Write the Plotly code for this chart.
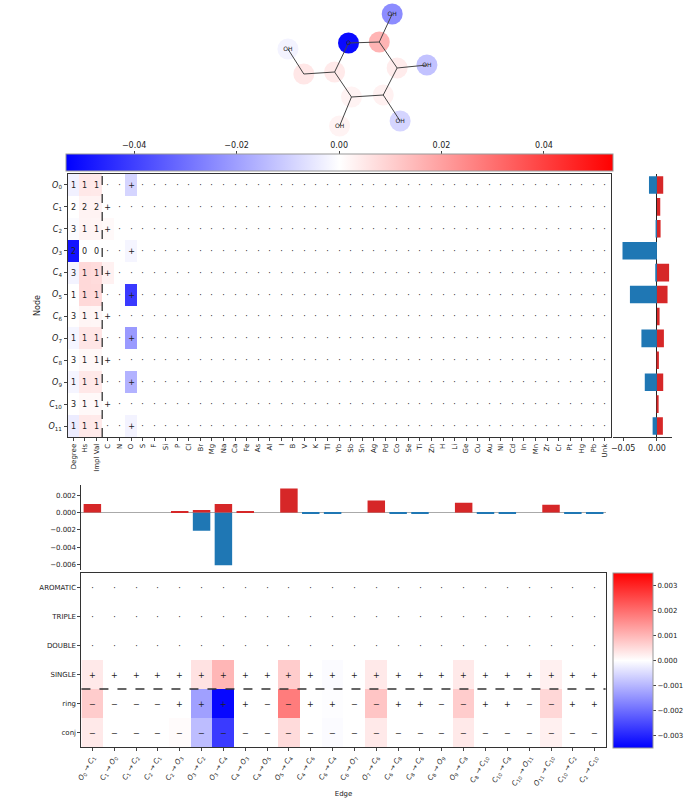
import plotly.graph_objects as go

# ---------------- data ----------------
node_elem = ["O", "C", "C", "O", "C", "O", "C", "O", "C", "O", "C", "O"]
node_num = list(range(12))
numeric_features = ["Degree", "Hs", "Impl Val"]
atom_types = ["C", "N", "O", "S", "F", "Si", "P", "Cl", "Br", "Mg", "Na", "Ca", "Fe", "As", "Al",
              "I", "B", "V", "K", "Tl", "Yb", "Sb", "Sn", "Ag", "Pd", "Co", "Se", "Ti", "Zn", "H",
              "Li", "Ge", "Cu", "Au", "Ni", "Cd", "In", "Mn", "Zr", "Cr", "Pt", "Hg", "Pb", "Unk"]
degree = [1, 2, 3, 2, 3, 1, 3, 1, 3, 1, 3, 1]
hs = [1, 2, 1, 0, 1, 1, 1, 1, 1, 1, 1, 1]
impl_val = [1, 2, 1, 0, 1, 1, 1, 1, 1, 1, 1, 1]

attr_degree = [-0.003, 0.0, -0.0008, -0.049, -0.0025, 0.0, 0.0002, -0.002, 0.0, -0.002, 0.0, -0.004]
attr_hs = [0.0048, 0.0025, 0.0022, 0.0, 0.0078, 0.0080, 0.0020, 0.0052, 0.0015, 0.0047, 0.0013, 0.0045]
attr_impl = [0.0045, 0.0024, 0.0020, 0.0, 0.0072, 0.0077, 0.0019, 0.0051, 0.0014, 0.0046, 0.0012, 0.0043]
attr_elem = [-0.0088, 0.0, 0.0012, -0.002, 0.003, -0.041, 0.0, -0.021, 0.0, -0.016, 0.0, -0.0024]

node_pos = [0.0093, 0.0049, 0.0054, 0.0, 0.018, 0.0157, 0.0039, 0.0103, 0.0029, 0.0093, 0.0025, 0.0088]
node_neg = [-0.0118, 0.0, -0.001, -0.051, -0.0025, -0.040, 0.0, -0.023, 0.0, -0.018, 0.0, -0.0064]

# molecule depiction (2D layout of atoms) and atom colour values
atom_x = [285, 301, 332, 346, 377, 390, 395, 425, 381, 398, 349, 337]
atom_y = [49, 74, 72, 43, 42, 14, 68, 65, 95, 121, 97, 126]
atom_label = ["OH", "", "", "O", "", "OH", "", "OH", "", "OH", "", "OH"]
atom_value = [-0.0025, 0.0049, 0.0044, -0.051, 0.0155, -0.024, 0.0039, -0.0127, 0.0029, -0.0087, 0.0025, 0.0024]

edge_src = [0, 1, 1, 2, 2, 3, 3, 4, 4, 5, 4, 6, 6, 7, 6, 8, 8, 9, 8, 10, 10, 11, 10, 2]
edge_dst = [1, 0, 2, 1, 3, 2, 4, 3, 5, 4, 6, 4, 7, 6, 8, 6, 9, 8, 10, 8, 11, 10, 2, 10]
edge_rows = ["AROMATIC", "TRIPLE", "DOUBLE", "SINGLE", "ring", "conj"]
is_single = [1] * 24
is_ring = [0, 0, 0, 0, 1, 1, 1, 1, 0, 0, 1, 1, 0, 0, 1, 1, 0, 0, 1, 1, 0, 0, 1, 1]
is_conj = [0] * 24
attr_aromatic = [0.0] * 24
attr_triple = [0.0] * 24
attr_double = [0.0] * 24
attr_single = [0.0003, 0, 0, 0, 0, 0.0004, 0.0010, 0, 0, 0.0007, 0, -0.00005, 0, 0.0003, 0, 0, 0, 0.0003, 0, 0, 0, 0.0002, 0, 0]
attr_ring = [0.0007, 0, 0, 0, 0, -0.0013, -0.0034, 0, 0, 0.0018, 0, -0.00003, 0, 0.0008, 0, 0, 0, 0.0007, 0, 0, 0, 0.00055, 0, 0]
attr_conj = [0.0003, 0, 0, 0, 0.00005, -0.0009, -0.0027, 0, 0, 0.0005, 0, -0.00005, 0, 0.0003, 0, 0, 0, 0.0003, 0, 0, 0, 0.0002, 0, 0]

edge_pos = [0.0010, 0, 0, 0, 0.00008, 0.0003, 0.0010, 0.00008, 0, 0.0028, 0, 0, 0, 0.0014, 0, 0, 0, 0.00114, 0, 0, 0, 0.0009, 0, 0]
edge_neg = [0, 0, 0, 0, 0, -0.0021, -0.0061, 0, 0, 0, -0.00005, -0.00015, 0, 0, -0.00005, -0.00005, 0, 0, -0.0001, -0.00005, 0, 0, -0.00005, -0.0001]

# ---------------- helpers ----------------
W, H = 691, 798
def fx(p): return p / W
def fy(p): return 1 - p / H

FONT = "DejaVu Sans"
BWR = [[0, "rgb(0,0,255)"], [0.5, "rgb(255,255,255)"], [1, "rgb(255,0,0)"]]
NMAX = 0.053
EMAX = 0.0035
BLUE = "#1f77b4"
RED = "#d62728"

def node_lbl(i):
    return f"<i>{node_elem[i]}</i><sub>{node_num[i]}</sub>"

node_labels = [node_lbl(i) for i in range(12)]
feat_names = numeric_features + atom_types
n_num = len(numeric_features)

# node matrix
z_node, t_node = [], []
for i in range(12):
    row = [attr_degree[i], attr_hs[i], attr_impl[i]]
    txt = [str(degree[i]), str(hs[i]), str(impl_val[i])]
    for a in atom_types:
        if a == node_elem[i]:
            row.append(attr_elem[i]); txt.append("+")
        else:
            row.append(0.0); txt.append("·")
    z_node.append(row); t_node.append(txt)

edge_labels = [f"{node_lbl(s)} → {node_lbl(d)}" for s, d in zip(edge_src, edge_dst)]
z_edge = [attr_aromatic, attr_triple, attr_double, attr_single, attr_ring, attr_conj]
t_edge = [["·"] * 24, ["·"] * 24, ["·"] * 24,
          ["+" if v else "−" for v in is_single],
          ["+" if v else "−" for v in is_ring],
          ["+" if v else "−" for v in is_conj]]

fig = go.Figure()

# molecule
mol_x, mol_y = [], []
for s, d in zip(edge_src, edge_dst):
    if s < d:
        mol_x += [atom_x[s], atom_x[d], None]
        mol_y += [atom_y[s], atom_y[d], None]
fig.add_trace(go.Scatter(x=atom_x, y=atom_y, mode="markers", xaxis="x6", yaxis="y6",
                         marker=dict(size=21, color=atom_value, colorscale=BWR, cmin=-NMAX, cmax=NMAX,
                                     line=dict(width=0), showscale=False),
                         hoverinfo="skip", showlegend=False))
fig.add_trace(go.Scatter(x=mol_x, y=mol_y, mode="lines", xaxis="x6", yaxis="y6",
                         line=dict(color="#444", width=1), hoverinfo="skip", showlegend=False))
fig.add_trace(go.Scatter(x=atom_x, y=atom_y, mode="text", text=atom_label, xaxis="x6", yaxis="y6",
                         textfont=dict(family=FONT, size=6, color="#222"), hoverinfo="skip", showlegend=False))

# node heatmap
fig.add_trace(go.Heatmap(z=z_node, x=list(range(len(feat_names))), y=list(range(12)),
                         text=t_node, texttemplate="%{text}",
                         textfont=dict(family=FONT, size=8, color="#222"),
                         colorscale=BWR, zmin=-NMAX, zmax=NMAX, xaxis="x", yaxis="y",
                         colorbar=dict(orientation="h", x=fx(336.5), xanchor="center", y=fy(172), yanchor="bottom",
                                       len=547, lenmode="pixels", thickness=17, thicknessmode="pixels",
                                       xpad=0, ypad=0, showticklabels=False, ticks="",
                                       outlinewidth=1, outlinecolor="#999")))

# node bars
fig.add_trace(go.Bar(x=node_neg, y=list(range(12)), orientation="h", marker=dict(color=BLUE, line=dict(width=0)),
                     width=0.8, xaxis="x2", yaxis="y2", showlegend=False))
fig.add_trace(go.Bar(x=node_pos, y=list(range(12)), orientation="h", marker=dict(color=RED, line=dict(width=0)),
                     width=0.8, xaxis="x2", yaxis="y2", showlegend=False))

# edge heatmap
fig.add_trace(go.Heatmap(z=z_edge, x=list(range(24)), y=list(range(6)),
                         text=t_edge, texttemplate="%{text}",
                         textfont=dict(family=FONT, size=8, color="#222"),
                         colorscale=BWR, zmin=-EMAX, zmax=EMAX, xaxis="x3", yaxis="y3",
                         colorbar=dict(x=fx(612), xanchor="left", y=fy(660.5), yanchor="middle",
                                       len=175, lenmode="pixels", thickness=40, thicknessmode="pixels",
                                       xpad=0, ypad=0, ticks="outside", ticklen=3,
                                       tickvals=[-0.003, -0.002, -0.001, 0, 0.001, 0.002, 0.003],
                                       tickformat=".3f", tickfont=dict(family=FONT, size=7, color="#222"),
                                       outlinewidth=1, outlinecolor="#999")))

# edge bars
fig.add_trace(go.Bar(x=list(range(24)), y=edge_neg, marker=dict(color=BLUE, line=dict(width=0)),
                     width=0.8, xaxis="x4", yaxis="y4", showlegend=False))
fig.add_trace(go.Bar(x=list(range(24)), y=edge_pos, marker=dict(color=RED, line=dict(width=0)),
                     width=0.8, xaxis="x4", yaxis="y4", showlegend=False))

# axis for top colorbar ticks
fig.add_trace(go.Scatter(x=[], y=[], xaxis="x5", yaxis="y5", showlegend=False))

tickf = dict(family=FONT, size=7, color="#222")
frame = dict(showline=True, linecolor="#333", linewidth=1, mirror=True)

fig.update_layout(
    width=W, height=H, margin=dict(l=0, r=0, t=0, b=0),
    paper_bgcolor="white", plot_bgcolor="rgba(0,0,0,0)",
    barmode="overlay", showlegend=False,
    font=dict(family=FONT, size=7, color="#222"),
    xaxis=dict(domain=[fx(63), fx(610)], anchor="y", range=[-0.5, len(feat_names) - 0.5],
               tickvals=list(range(len(feat_names))), ticktext=feat_names, tickangle=-90,
               ticks="outside", ticklen=3, tickfont=tickf, showgrid=False, zeroline=False, **frame),
    yaxis=dict(domain=[fy(437), fy(174)], anchor="x", range=[11.5, -0.5],
               tickvals=list(range(12)), ticktext=node_labels, ticks="outside", ticklen=3,
               tickfont=dict(family=FONT, size=8, color="#222"), showgrid=False, zeroline=False,
               title=dict(text="Node", font=dict(family=FONT, size=8), standoff=6), **frame),
    xaxis2=dict(domain=[fx(612), fx(672)], anchor="y2", range=[-0.0657, 0.0225],
                tickvals=[-0.05, 0.0], tickformat=".2f", ticks="outside", ticklen=3,
                tickfont=dict(family=FONT, size=8, color="#222"), showgrid=False,
                zeroline=True, zerolinecolor="#222", zerolinewidth=0.8,
                showline=True, linecolor="#333", linewidth=1),
    yaxis2=dict(domain=[fy(437), fy(174)], anchor="x2", range=[11.5, -0.5],
                showticklabels=False, ticks="", showgrid=False, zeroline=False, showline=False),
    xaxis3=dict(domain=[fx(77), fx(605)], anchor="y3", range=[-0.5, 23.5],
                tickvals=list(range(24)), ticktext=edge_labels, tickangle=-60,
                ticks="outside", ticklen=3, tickfont=tickf, showgrid=False, zeroline=False,
                title=dict(text="Edge", font=dict(family=FONT, size=7), standoff=4), **frame),
    yaxis3=dict(domain=[fy(747), fy(573)], anchor="x3", range=[5.5, -0.5],
                tickvals=list(range(6)), ticktext=edge_rows, ticks="outside", ticklen=3,
                tickfont=tickf, showgrid=False, zeroline=False, **frame),
    xaxis4=dict(domain=[fx(77), fx(605)], anchor="y4", range=[-0.5, 23.5], visible=False),
    yaxis4=dict(domain=[fy(570), fy(485)], anchor="x4", range=[-0.00666, 0.0032],
                tickvals=[-0.006, -0.004, -0.002, 0.0, 0.002], tickformat=".3f",
                ticks="outside", ticklen=3, tickfont=tickf, showgrid=False,
                zeroline=True, zerolinecolor="#aaa", zerolinewidth=1,
                showline=True, linecolor="#333", linewidth=1),
    xaxis5=dict(domain=[fx(63), fx(610)], anchor="y5", range=[-NMAX, NMAX], side="top",
                tickvals=[-0.04, -0.02, 0.0, 0.02, 0.04], tickformat=".2f",
                ticks="outside", ticklen=3, tickfont=dict(family=FONT, size=8, color="#222"),
                showgrid=False, zeroline=False, showline=False),
    yaxis5=dict(domain=[fy(172), fy(155)], anchor="x5", visible=False, range=[0, 1]),
    xaxis6=dict(domain=[0, 1], anchor="y6", range=[0, W], visible=False),
    yaxis6=dict(domain=[fy(140), 1], anchor="x6", range=[140, 0], visible=False),
)

shapes = [
    dict(type="line", xref="x", yref="y domain", x0=n_num - 0.5, x1=n_num - 0.5, y0=0, y1=1,
         line=dict(color="#333", width=1.3, dash="dash")),
    dict(type="line", xref="x3 domain", yref="y3", x0=0, x1=1,
         y0=edge_rows.index("SINGLE") + 0.5, y1=edge_rows.index("SINGLE") + 0.5,
         line=dict(color="#333", width=1.3, dash="dash")),
]
fig.update_layout(shapes=shapes)

fig.write_html("out.html", config={"displayModeBar": False},
               post_script="document.body.style.margin='0';document.body.style.overflow='hidden';")
